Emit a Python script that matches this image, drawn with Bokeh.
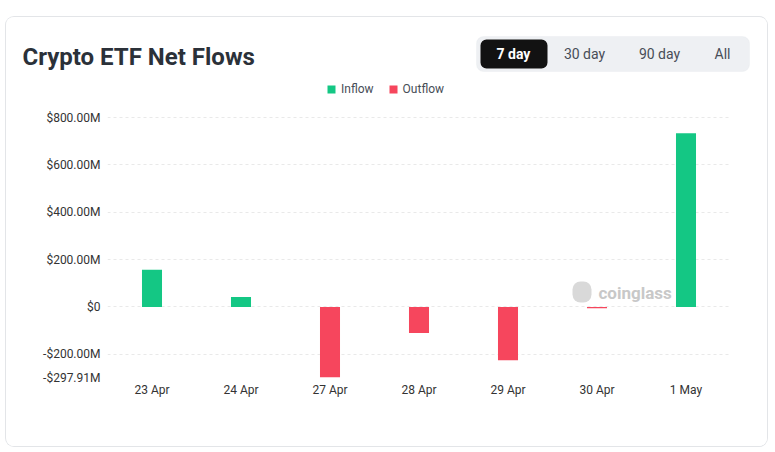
from bokeh.plotting import figure
from bokeh.layouts import column
from bokeh.models import (ColumnDataSource, Range1d, FactorRange, FixedTicker, Label,
                          BoxAnnotation, Legend, LegendItem, CDSView, BooleanFilter)
from bokeh.embed import file_html
from bokeh.resources import INLINE

# ---- data (millions USD) ----
dates = ["23 Apr", "24 Apr", "27 Apr", "28 Apr", "29 Apr", "30 Apr", "1 May"]
flows = [157.0, 42.0, -297.91, -110.0, -225.0, -6.0, 733.0]
y_ticks = [-297.91, -200, 0, 200, 400, 600, 800]
y_tick_labels = ["-$297.91M", "-$200.00M", "$0", "$200.00M", "$400.00M", "$600.00M", "$800.00M"]
buttons = ["7 day", "30 day", "90 day", "All"]

GREEN = "#14c784"
RED = "#f6465d"
FONT = "Roboto"

CARD_W, HEAD_H, CHART_H = 761, 61, 368

# ---------------- header ----------------
h = figure(width=CARD_W, height=HEAD_H, x_range=Range1d(0, CARD_W), y_range=Range1d(HEAD_H, 0),
           output_backend="svg", toolbar_location=None,
           min_border=0, x_axis_location=None, y_axis_location=None)
h.frame_align = False
h.outline_line_color = None
h.grid.visible = False

h.add_layout(Label(x=16, y=39, text="Crypto ETF Net Flows", text_font=FONT,
                   text_font_size="24px", text_font_style="bold", text_color="#2b3139",
                   text_baseline="middle"))
h.add_layout(BoxAnnotation(left=470, right=743, top=19, bottom=54,
                           fill_color="#eef0f3", fill_alpha=1, line_color="#e6e8eb",
                           border_radius=7))
h.add_layout(BoxAnnotation(left=474, right=541, top=22, bottom=51,
                           fill_color="#121212", fill_alpha=1, line_color=None,
                           border_radius=6))
btn_x = [507, 578, 653, 716]
for i, (bx, b) in enumerate(zip(btn_x, buttons)):
    h.add_layout(Label(x=bx, y=36, text=b, text_font=FONT, text_font_size="14px",
                       text_font_style="bold" if i == 0 else "normal",
                       text_color="white" if i == 0 else "#474d57",
                       text_align="center", text_baseline="middle"))

# ---------------- chart ----------------
src = ColumnDataSource(dict(date=dates, flow=flows))
inflow_view = CDSView(filter=BooleanFilter([v >= 0 for v in flows]))
outflow_view = CDSView(filter=BooleanFilter([v < 0 for v in flows]))

y_lo, y_hi = min(y_ticks), max(y_ticks)
y_end = y_lo + 299 * (y_hi - y_lo) / 260.0   # extra headroom for the legend

p = figure(width=CARD_W, height=CHART_H, x_range=FactorRange(*dates, range_padding=0),
           y_range=Range1d(y_lo, y_end),
           output_backend="svg", toolbar_location=None,
           min_border_left=101, min_border_right=37, min_border_top=0, min_border_bottom=69)
p.frame_align = False
p.outline_line_color = None

r_in = p.vbar(x="date", top="flow", bottom=0, width=0.225, source=src, view=inflow_view,
              fill_color=GREEN, line_color=None)
r_out = p.vbar(x="date", top="flow", bottom=0, width=0.225, source=src, view=outflow_view,
               fill_color=RED, line_color=None)

p.xgrid.grid_line_color = None
p.ygrid.grid_line_color = "#e9e9e9"
p.ygrid.grid_line_dash = "3 3"
p.yaxis.ticker = FixedTicker(ticks=y_ticks)
p.yaxis.major_label_overrides = {t: l for t, l in zip(y_ticks, y_tick_labels)}
for ax in (p.xaxis[0], p.yaxis[0]):
    ax.axis_line_color = None
    ax.major_tick_line_color = None
    ax.minor_tick_line_color = None
    ax.major_tick_out = 0
    ax.major_tick_in = 0
    ax.major_label_text_font = FONT
    ax.major_label_text_font_size = "12px"
    ax.major_label_text_color = "#333333"
p.yaxis.major_label_standoff = 7
p.xaxis.major_label_standoff = 5

legend = Legend(items=[LegendItem(label="Inflow", renderers=[r_in]),
                       LegendItem(label="Outflow", renderers=[r_out])],
                orientation="horizontal", location=(219, 281),
                glyph_width=10, glyph_height=10, label_height=12, label_standoff=5,
                spacing=14, padding=0, margin=0, border_line_color=None,
                background_fill_alpha=0, label_text_font=FONT,
                label_text_font_size="12px", label_text_color="#474d57")
p.add_layout(legend, "center")

# watermark
p.add_layout(BoxAnnotation(left=465, right=484, top=96, bottom=75,
                           left_units="screen", right_units="screen",
                           top_units="screen", bottom_units="screen",
                           fill_color="#cfcfcf", fill_alpha=0.8, line_color=None,
                           border_radius=8))
p.add_layout(Label(x=491, y=85, x_units="screen", y_units="screen", text="coinglass",
                   text_font=FONT, text_font_size="17px", text_font_style="bold",
                   text_color="#c8c8c8", text_baseline="middle"))

root = column(h, p, spacing=0, margin=(17, 0, 0, 6),
              styles={"box-shadow": "0 0 0 1px #e3e5e8", "border-radius": "8px",
                      "overflow": "hidden"})

open("out.html", "w").write(file_html(root, INLINE))
